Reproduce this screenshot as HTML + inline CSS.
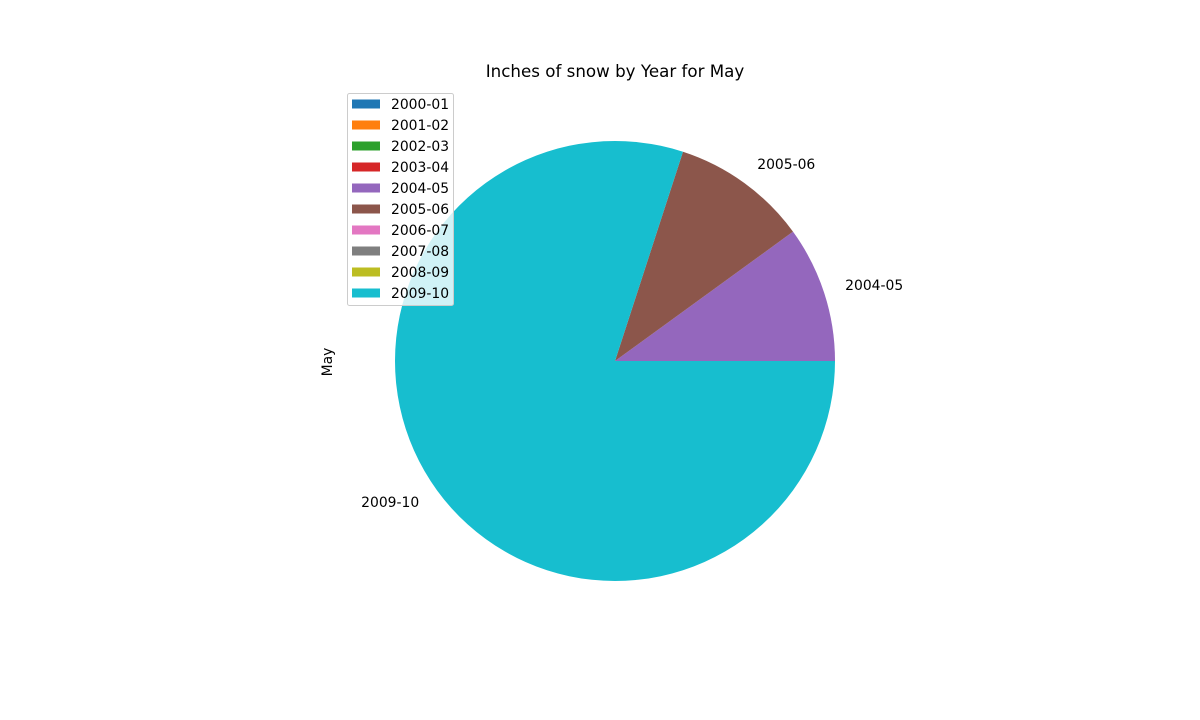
<!DOCTYPE html>
<html><head><meta charset="utf-8"><style>
body{margin:0;background:#fff;}
svg text{font-family:"DejaVu Sans","Liberation Sans",sans-serif;}
</style></head><body>
<svg width="1200" height="715" viewBox="0 0 1200 715">
<text x="615" y="77" font-size="16.7" text-anchor="middle">Inches of snow by Year for May</text>
<text x="0" y="0" font-size="13.9" text-anchor="middle" transform="translate(332,362) rotate(-90)">May</text>
<g id="pie"></g>
<g id="legend"></g>
</svg>
<script>
const categories=["2000-01","2001-02","2002-03","2003-04","2004-05","2005-06","2006-07","2007-08","2008-09","2009-10"];
const values=[0,0,0,0,1,1,0,0,0,8];
const colors=["#1f77b4","#ff7f0e","#2ca02c","#d62728","#9467bd","#8c564b","#e377c2","#7f7f7f","#bcbd22","#17becf"];
const NS="http://www.w3.org/2000/svg";
const cx=615,cy=361,R=220;
const total=values.reduce((a,b)=>a+b,0);
const pie=document.getElementById('pie');
let ang=0;
function pt(a,r){return [cx+r*Math.cos(a),cy-r*Math.sin(a)];}
values.forEach((v,i)=>{
  if(v<=0)return;
  const sweep=v/total*2*Math.PI;
  const a0=ang,a1=ang+sweep;
  const p0=pt(a0,R),p1=pt(a1,R);
  const large=sweep>Math.PI?1:0;
  const path=document.createElementNS(NS,'path');
  path.setAttribute('d',`M${cx},${cy} L${p0[0]},${p0[1]} A${R},${R} 0 ${large} 0 ${p1[0]},${p1[1]} Z`);
  path.setAttribute('fill',colors[i]);
  
  
  pie.appendChild(path);
  const m=(a0+a1)/2;const lp=pt(m,R*1.1);
  const t=document.createElementNS(NS,'text');
  t.setAttribute('x',lp[0]);t.setAttribute('y',lp[1]+4);
  t.setAttribute('font-size','13.9');
  t.setAttribute('text-anchor',Math.cos(m)>=0?'start':'end');
  t.textContent=categories[i];
  
  
  pie.appendChild(t);
  ang=a1;
});
const lg=document.getElementById('legend');
const box=document.createElementNS(NS,'rect');
box.setAttribute('x',347.5);box.setAttribute('y',93.5);box.setAttribute('width',106);box.setAttribute('height',212);
box.setAttribute('rx',2);box.setAttribute('fill','#fff');box.setAttribute('fill-opacity','0.8');box.setAttribute('stroke','#ccc');


lg.appendChild(box);
categories.forEach((c,i)=>{
  const y=104+i*21;
  const r=document.createElementNS(NS,'rect');
  r.setAttribute('x',352);r.setAttribute('y',y-4.5);r.setAttribute('width',28);r.setAttribute('height',9);r.setAttribute('fill',colors[i]);
  
  
  lg.appendChild(r);
  const t=document.createElementNS(NS,'text');
  t.setAttribute('x',391);t.setAttribute('y',y+5);t.setAttribute('font-size','13.9');t.textContent=c;
  
  
  lg.appendChild(t);
});
</script>
</body></html>
